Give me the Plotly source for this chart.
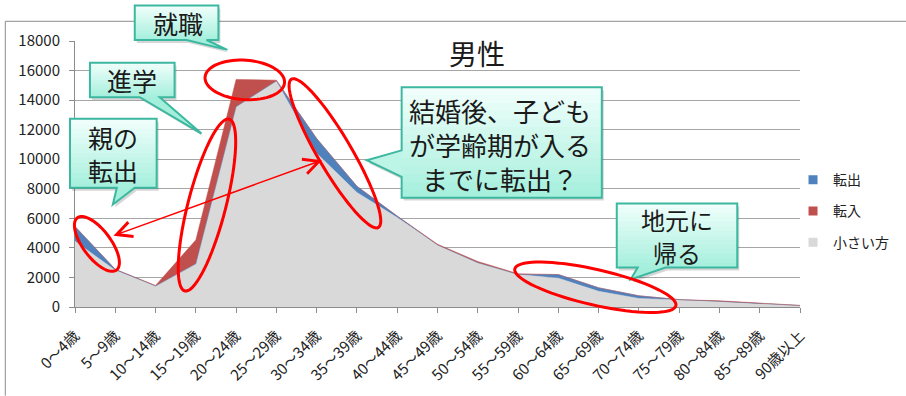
import math
import plotly.graph_objects as go

# ---------------- data ----------------
age_labels = ["0〜4歳", "5〜9歳", "10〜14歳", "15〜19歳", "20〜24歳", "25〜29歳",
              "30〜34歳", "35〜39歳", "40〜44歳", "45〜49歳", "50〜54歳", "55〜59歳",
              "60〜64歳", "65〜69歳", "70〜74歳", "75〜79歳", "80〜84歳", "85〜89歳",
              "90歳以上"]
tenshutsu = [5450, 2550, 1420, 2920, 13550, 15300, 11400, 8170, 6150, 4200, 3000, 2200,
             2200, 1300, 760, 500, 380, 250, 100]
tennyu = [4450, 2480, 1460, 4540, 15400, 15350, 10400, 7750, 6050, 4250, 3080, 2250,
          1950, 1060, 580, 490, 420, 290, 110]
y_ticks = [0, 2000, 4000, 6000, 8000, 10000, 12000, 14000, 16000, 18000]

smaller = [min(a, b) for a, b in zip(tenshutsu, tennyu)]
out_extra = [a - m for a, m in zip(tenshutsu, smaller)]
in_extra = [b - m for b, m in zip(tennyu, smaller)]
xs = list(range(len(age_labels)))

JP = "Noto Sans CJK JP"
W, H = 906, 396
ML, MR, MT, MB = 75, 103, 41, 85
PW, PH = W - ML - MR, H - MT - MB


def fx(x):
    return (x - ML) / PW


def fy(y):
    return (H - MB - y) / PH


fig = go.Figure()
fig.add_trace(go.Scatter(x=xs, y=smaller, stackgroup="a", mode="lines",
                         line=dict(width=0.5, color="#d9d9d9"), fillcolor="#d9d9d9",
                         showlegend=False, hoverinfo="skip"))
fig.add_trace(go.Scatter(x=xs, y=out_extra, stackgroup="a", mode="lines",
                         line=dict(width=0.5, color="#4f81bd"), fillcolor="#4f81bd",
                         showlegend=False, hoverinfo="skip"))
fig.add_trace(go.Scatter(x=xs, y=in_extra, stackgroup="a", mode="lines",
                         line=dict(width=0.5, color="#c0504d"), fillcolor="#c0504d",
                         showlegend=False, hoverinfo="skip"))
# legend entries
for name, col, g in [("転出", "#4f81bd", "g1"), ("転入", "#c0504d", "g2"), ("小さい方", "#d9d9d9", "g3")]:
    fig.add_trace(go.Scatter(x=[None], y=[None], mode="markers", name=name, legendgroup=g,
                             marker=dict(symbol="square", size=9, color=col)))

shapes = []
annotations = []

# chart frame
shapes.append(dict(type="line", xref="paper", yref="paper", x0=fx(5), x1=fx(W + 5),
                   y0=fy(21), y1=fy(21), line=dict(color="#8c8c8c", width=1)))
shapes.append(dict(type="line", xref="paper", yref="paper", x0=fx(5), x1=fx(5),
                   y0=fy(21), y1=fy(H + 5), line=dict(color="#8c8c8c", width=1)))


def path_from(points):
    s = "M " + " L ".join(f"{fx(x):.5f},{fy(y):.5f}" for x, y in points) + " Z"
    return s


def lerp_col(c1, c2, t):
    a = [int(c1[i:i + 2], 16) for i in (1, 3, 5)]
    b = [int(c2[i:i + 2], 16) for i in (1, 3, 5)]
    return "#" + "".join(f"{round(a[i] + (b[i] - a[i]) * t):02x}" for i in range(3))


TOP_C, BOT_C, BORDER = "#f2fffc", "#a4efdc", "#3cb8a0"


def callout(x0, y0, x1, y1, pointer):
    kind, p = pointer
    if kind == "bottom":
        b1, b2, tx, ty = p
        pts = [(x0, y0), (x1, y0), (x1, y1), (b2, y1), (tx, ty), (b1, y1), (x0, y1)]
        pc = BOT_C
    else:  # left
        b1, b2, tx, ty = p
        pts = [(x0, y0), (x1, y0), (x1, y1), (x0, y1), (x0, b2), (tx, ty), (x0, b1)]
        pc = lerp_col(TOP_C, BOT_C, ((b1 + b2) / 2 - y0) / (y1 - y0))
    shadow = [(x + 2, y + 3) for x, y in pts]
    shapes.append(dict(type="path", xref="paper", yref="paper", path=path_from(shadow),
                       fillcolor="rgba(0,0,0,0.16)", line=dict(width=0)))
    shapes.append(dict(type="path", xref="paper", yref="paper", path=path_from(pts),
                       fillcolor=pc, line=dict(width=0)))
    n = 14
    for i in range(n):
        ya = y0 + (y1 - y0) * i / n
        yb = y0 + (y1 - y0) * (i + 1) / n + 0.6
        shapes.append(dict(type="rect", xref="paper", yref="paper", x0=fx(x0), x1=fx(x1),
                           y0=fy(ya), y1=fy(min(yb, y1)),
                           fillcolor=lerp_col(TOP_C, BOT_C, (i + 0.5) / n), line=dict(width=0)))
    shapes.append(dict(type="path", xref="paper", yref="paper", path=path_from(pts),
                       fillcolor="rgba(0,0,0,0)", line=dict(color=BORDER, width=2)))


def text_block(txt, x, y, size=25):
    annotations.append(dict(text=txt, x=fx(x), y=fy(y), xref="paper", yref="paper",
                            showarrow=False, xanchor="center", yanchor="middle",
                            align="center",
                            font=dict(family=JP, size=size, color="#1a1a1a")))


callout(135, 5, 219, 40, ("bottom", (187, 207, 228, 50)))
text_block("就職", 178, 23)
callout(90, 63, 175, 98, ("bottom", (140, 160, 202, 135)))
text_block("進学", 132, 81)
callout(70, 120, 157, 190, ("bottom", (117, 135, 113, 207)))
text_block("親の<br>転出", 113, 155)
callout(403, 88, 604, 200, ("left", (152, 179, 368, 162)))
text_block("結婚後、子ども<br>が学齢期が入る<br>までに転出？", 502, 146, size=26)
callout(619, 206, 740, 271, ("bottom", (640, 668, 633, 283)))
text_block("地元に", 679, 222, size=24)
text_block("帰る", 679, 256, size=24)


def ellipse(cx, cy, a, b, ang_deg):
    t = math.radians(ang_deg)
    pts = []
    for k in range(73):
        u = 2 * math.pi * k / 72
        ex, ey = a * math.cos(u), b * math.sin(u)
        pts.append((cx + ex * math.cos(t) - ey * math.sin(t),
                    cy + ex * math.sin(t) + ey * math.cos(t)))
    shapes.append(dict(type="path", xref="paper", yref="paper", path=path_from(pts),
                       fillcolor="rgba(0,0,0,0)", line=dict(color="#ff0000", width=3)))


ellipse(97, 247, 33, 14, 53.6)
ellipse(207.5, 207.5, 90, 19, -75.7)
ellipse(245.5, 80.5, 40, 20, 4)
ellipse(336, 155, 87, 17, 59.9)
ellipse(597.5, 291, 83, 18, 13)

# double arrow
annotations.append(dict(text="", x=fx(323), y=fy(162), xref="paper", yref="paper",
                        ax=113 - 323, ay=238 - 162, axref="pixel", ayref="pixel",
                        showarrow=True, arrowhead=5, startarrowhead=5, arrowside="end+start",
                        arrowwidth=1.5, arrowsize=2, startarrowsize=2, arrowcolor="#ff0000"))

# title
annotations.append(dict(text="男性", x=fx(479), y=fy(53), xref="paper", yref="paper",
                        showarrow=False, xanchor="center", yanchor="middle",
                        font=dict(family=JP, size=28, color="#1a1a1a")))

fig.update_layout(
    width=W, height=H,
    margin=dict(l=ML, r=MR, t=MT, b=MB, pad=0),
    paper_bgcolor="white", plot_bgcolor="white",
    font=dict(family=JP, color="#222"),
    shapes=shapes, annotations=annotations,
    legend=dict(x=fx(796), y=fy(166), xanchor="left", yanchor="top",
                font=dict(family=JP, size=14, color="#222"),
                traceorder="grouped", tracegroupgap=10, itemwidth=30,
                bgcolor="rgba(0,0,0,0)"),
    showlegend=True,
)
fig.update_xaxes(range=[0, len(age_labels) - 1], tickmode="array", tickvals=xs,
                 ticktext=age_labels, tickangle=-45, ticks="outside", ticklen=5,
                 tickcolor="#8c8c8c", showline=True, linecolor="#8c8c8c", showgrid=False,
                 zeroline=False, ticklabelstandoff=8,
                 tickfont=dict(family=JP, size=15, color="#222"), fixedrange=True)
fig.update_yaxes(range=[0, 18000], tickmode="array", tickvals=y_ticks,
                 ticktext=[str(v) for v in y_ticks], ticks="outside", ticklen=5,
                 tickcolor="#8c8c8c", showline=True, linecolor="#8c8c8c", showgrid=True,
                 gridcolor="#a6a6a6", gridwidth=1, zeroline=False, ticklabelstandoff=6,
                 tickfont=dict(family=JP, size=15, color="#222"), fixedrange=True)

fig.write_html("out.html", config={"displayModeBar": False},
               post_script="document.body.style.margin='0';document.body.style.padding='0';")
